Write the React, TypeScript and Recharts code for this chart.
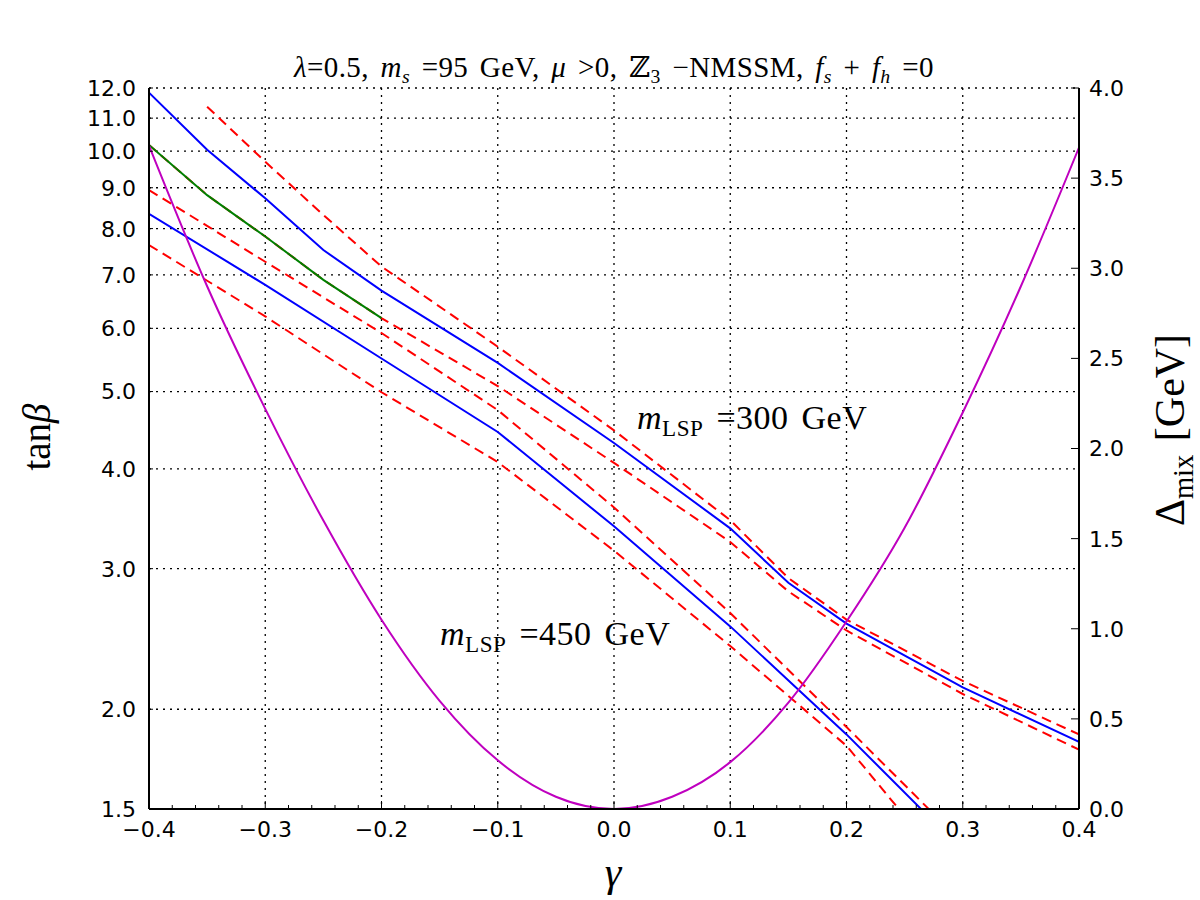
import React from 'react';
import { LineChart, Line, XAxis, YAxis, CartesianGrid } from 'recharts';

// axis ticks
const gammaTicks = [-0.4, -0.3, -0.2, -0.1, 0, 0.1, 0.2, 0.3, 0.4];
const tanBetaTicks = [1.5, 2, 3, 4, 5, 6, 7, 8, 9, 10, 11, 12];
const deltaTicks = [0, 0.5, 1, 1.5, 2, 2.5, 3, 3.5, 4];

// m_LSP = 300 GeV band (blue = central, red dashed = edges)
const gamma300 = [-0.4, -0.35, -0.3, -0.25, -0.2, -0.1, 0, 0.1, 0.15, 0.2, 0.3, 0.4];
const tanb300 = [11.84, 10.04, 8.73, 7.52, 6.69, 5.43, 4.31, 3.37, 2.88, 2.56, 2.13, 1.82];
const tanb300Lo = [10.18, 8.81, 7.82, 6.9, 6.18, 5.08, 4.07, 3.24, 2.81, 2.51, 2.09, 1.78];
const gamma300Hi = [-0.35, -0.3, -0.25, -0.2, -0.1, 0, 0.1, 0.15, 0.2, 0.3, 0.4];
const tanb300Hi = [11.37, 9.7, 8.32, 7.17, 5.69, 4.47, 3.45, 2.92, 2.59, 2.17, 1.86];

// m_LSP = 450 GeV band
const gamma450 = [-0.4, -0.3, -0.2, -0.1, 0, 0.1, 0.2, 0.3];
const tanb450 = [8.35, 6.8, 5.5, 4.45, 3.39, 2.54, 1.86, 1.33];
const tanb450Hi = [8.94, 7.27, 5.92, 4.74, 3.58, 2.64, 1.9, 1.36];
const tanb450Lo = [7.63, 6.21, 4.99, 4.08, 3.16, 2.4, 1.8, 1.2];

// green segment
const gammaGreen = [-0.4, -0.35, -0.3, -0.25, -0.2];
const tanbGreen = [10.18, 8.81, 7.82, 6.9, 6.18];

// Delta_mix (right axis)
const gammaMix = [-0.4, -0.35, -0.3, -0.25, -0.2, -0.15, -0.1, -0.05, 0, 0.05, 0.1, 0.15, 0.2, 0.25, 0.3, 0.35, 0.4];
const deltaMix = [3.68, 2.9, 2.22, 1.6, 1.05, 0.6, 0.27, 0.068, 0, 0.068, 0.26, 0.59, 1.04, 1.56, 2.2, 2.9, 3.67];

const zip = (xs: number[], ys: number[]) => xs.map((g, i) => ({ g, v: ys[i] }));

// minor x ticks every 0.02 between the major ones
const gammaAllTicks = gammaTicks.flatMap((t, i) =>
  i === gammaTicks.length - 1 ? [t] : [0, 1, 2, 3, 4].map((k) => t + (k * (gammaTicks[i + 1] - t)) / 5)
);

const FONT = '"DejaVu Sans", sans-serif';
const SERIF = '"Liberation Serif", "DejaVu Serif", serif';
const GAP = 10;
const LGAP = 13;
const FS = 22;

const isMajor = (v: number) => Math.abs(v * 10 - Math.round(v * 10)) < 1e-6;
const fmt = (v: number) => v.toFixed(1).replace('-', '\u2212');

const BottomTick = (props: any) => {
  const { x, y, payload } = props;
  const v = payload.value;
  const major = isMajor(v);
  const ay = y - GAP;
  return (
    <g>
      <line x1={x} x2={x} y1={ay} y2={ay - (major ? 8 : 4)} stroke="#000" strokeWidth={1} />
      {major && (
        <text x={x} y={y} dy="0.82em" textAnchor="middle" fontFamily={FONT} fontSize={FS} fill="#000">
          {fmt(v)}
        </text>
      )}
    </g>
  );
};

const TopTick = (props: any) => {
  const { x, y, payload } = props;
  const major = isMajor(payload.value);
  return <line x1={x} x2={x} y1={y} y2={y + (major ? 8 : 4)} stroke="#000" strokeWidth={1} />;
};

const LeftTick = (props: any) => {
  const { x, y, payload } = props;
  const ax = x + LGAP;
  return (
    <g>
      <line x1={ax} x2={ax + 4} y1={y} y2={y} stroke="#000" strokeWidth={1} />
      <text x={x} y={y} dy="0.36em" textAnchor="end" fontFamily={FONT} fontSize={FS} fill="#000">
        {payload.value.toFixed(1)}
      </text>
    </g>
  );
};

const RightTick = (props: any) => {
  const { x, y, payload } = props;
  const ax = x - GAP;
  return (
    <g>
      <line x1={ax} x2={ax - 8} y1={y} y2={y} stroke="#000" strokeWidth={1} />
      <text x={x} y={y} dy="0.36em" textAnchor="start" fontFamily={FONT} fontSize={FS} fill="#000">
        {payload.value.toFixed(1)}
      </text>
    </g>
  );
};

const MirrorTick = (props: any) => {
  const { x, y } = props;
  return <line x1={x} x2={x - 4} y1={y} y2={y} stroke="#000" strokeWidth={1} />;
};

const sub: React.CSSProperties = { fontSize: '0.68em', verticalAlign: '-0.3em', lineHeight: 0 };

export default function App() {
  const redLine = { type: 'linear' as const, stroke: '#ff0000', strokeWidth: 2, strokeDasharray: '10 6', dot: false, activeDot: false, isAnimationActive: false, xAxisId: 'x', yAxisId: 'left', dataKey: 'v' };
  const solid = { type: 'linear' as const, strokeWidth: 2, dot: false, activeDot: false, isAnimationActive: false, xAxisId: 'x', yAxisId: 'left', dataKey: 'v' };
  return (
    <div style={{ position: 'absolute', left: 0, top: 0, width: 1200, height: 900, background: '#fff' }}>
      <LineChart width={1200} height={900} margin={{ top: 88, right: 0, bottom: 0, left: 0 }}>
        <XAxis xAxisId="top" orientation="top" type="number" dataKey="g" domain={[-0.4, 0.4]} allowDataOverflow
          ticks={gammaAllTicks} interval={0} height={0} tickSize={0} tickMargin={0} tickLine={false}
          axisLine={{ stroke: '#000', strokeWidth: 2 }} tick={<TopTick />} />
        <XAxis xAxisId="x" type="number" dataKey="g" domain={[-0.4, 0.4]} allowDataOverflow
          ticks={gammaAllTicks} interval={0} height={91} tickSize={0} tickMargin={GAP} tickLine={false}
          axisLine={{ stroke: '#000', strokeWidth: 2 }} tick={<BottomTick />} />
        <YAxis yAxisId="left" type="number" scale="log" domain={[1.5, 12]} allowDataOverflow
          ticks={tanBetaTicks} interval={0} width={149} tickSize={0} tickMargin={LGAP} tickLine={false}
          axisLine={{ stroke: '#000', strokeWidth: 2 }} tick={<LeftTick />} />
        <YAxis yAxisId="logR" orientation="right" type="number" scale="log" domain={[1.5, 12]} allowDataOverflow
          ticks={tanBetaTicks} interval={0} width={0} tickSize={0} tickMargin={0} tickLine={false}
          axisLine={false} tick={<MirrorTick />} />
        <YAxis yAxisId="right" orientation="right" type="number" domain={[0, 4]} allowDataOverflow
          ticks={deltaTicks} interval={0} width={121} tickSize={0} tickMargin={GAP} tickLine={false}
          axisLine={{ stroke: '#000', strokeWidth: 2 }} tick={<RightTick />} />
        <CartesianGrid xAxisId="x" yAxisId="left"
          verticalValues={gammaTicks} horizontalValues={tanBetaTicks}
          stroke="#000" strokeWidth={1.3} strokeDasharray="2 5" fill="none" />

        <Line {...solid} data={zip(gamma300, tanb300)} stroke="#0000ff" />
        <Line {...redLine} data={zip(gamma300Hi, tanb300Hi)} />
        <Line {...redLine} data={zip(gamma300, tanb300Lo)} />
        <Line {...solid} data={zip(gamma450, tanb450)} stroke="#0000ff" />
        <Line {...redLine} data={zip(gamma450, tanb450Hi)} />
        <Line {...redLine} data={zip(gamma450, tanb450Lo)} />
        <Line {...solid} data={zip(gammaGreen, tanbGreen)} stroke="#008000" />
        <Line type="monotone" data={zip(gammaMix, deltaMix)} dataKey="v" xAxisId="x" yAxisId="right"
          stroke="#bf00bf" strokeWidth={2} dot={false} activeDot={false} isAnimationActive={false} />
      </LineChart>

      <div style={{ position: 'absolute', left: 149, width: 930, top: 50, textAlign: 'center', fontFamily: SERIF, fontSize: 29, lineHeight: '34px', color: '#000', whiteSpace: 'nowrap', wordSpacing: 4, letterSpacing: 0.4 }}>
        <i>λ</i>=0.5, <i>m</i><span style={sub}><i>s</i></span> =95 GeV, <i>μ</i> &gt;0, ℤ<span style={sub}>3</span> −NMSSM, <i>f</i><span style={sub}><i>s</i></span> + <i>f</i><span style={sub}><i>h</i></span> =0
      </div>

      <div style={{ position: 'absolute', left: 563, width: 100, top: 850, textAlign: 'center', fontFamily: SERIF, fontSize: 42, fontStyle: 'italic', lineHeight: '44px' }}>γ</div>

      <div style={{ position: 'absolute', left: 37, top: 437, transform: 'translate(-50%, -50%) rotate(-90deg)', fontFamily: SERIF, fontSize: 39, whiteSpace: 'nowrap', lineHeight: '44px' }}>
        tan<i>β</i>
      </div>

      <div style={{ position: 'absolute', left: 1170, top: 430, transform: 'translate(-50%, -50%) rotate(-90deg)', fontFamily: SERIF, fontSize: 42, whiteSpace: 'nowrap', lineHeight: '46px', wordSpacing: 3 }}>
        Δ<span style={sub}>mix</span> [GeV]
      </div>

      <div style={{ position: 'absolute', left: 637, top: 398, fontFamily: SERIF, fontSize: 34, whiteSpace: 'nowrap', lineHeight: '40px', wordSpacing: 4, letterSpacing: 0.5 }}>
        <i>m</i><span style={sub}>LSP</span> =300 GeV
      </div>

      <div style={{ position: 'absolute', left: 440, top: 614, fontFamily: SERIF, fontSize: 34, whiteSpace: 'nowrap', lineHeight: '40px', wordSpacing: 4, letterSpacing: 0.5 }}>
        <i>m</i><span style={sub}>LSP</span> =450 GeV
      </div>
    </div>
  );
}
